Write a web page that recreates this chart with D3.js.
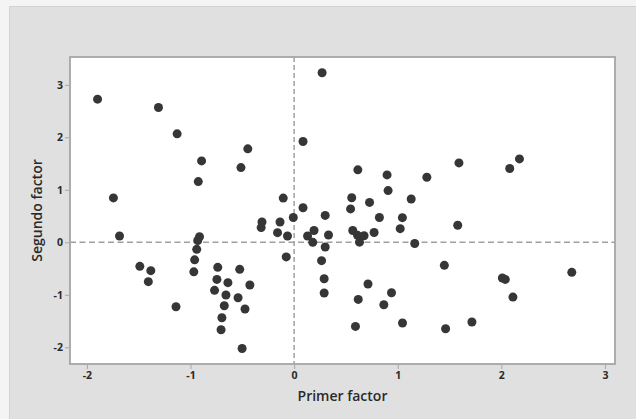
<!DOCTYPE html>
<html>
<head>
<meta charset="utf-8">
<script src="https://cdn.jsdelivr.net/npm/d3@7"></script>
<style>
  html, body { margin: 0; padding: 0; background: #f4f4f4; }
  svg { display: block; }
  text { font-family: "Open Sans", "Noto Sans", sans-serif; fill: #2a2a2a; }
</style>
</head>
<body>
<svg id="chart" width="636" height="419"></svg>
<script>
// Factor scores: first factor (x) and second factor (y)
const primerFactor = [
  -1.897, -1.309, -1.129, 0.270, 0.086, -0.447, -0.893, -0.513, -0.925, -1.744,
  -1.685, -0.105, 0.086, -0.008, -0.310, -0.318, -0.136, -0.160, -0.064, -0.076,
  0.130, 0.192, 0.180, 0.300, 0.332, 0.300, 0.265, 0.290, 0.290, -0.913,
  -0.930, -0.940, -0.960, -0.968, -1.489, -1.383, -1.407, -1.140, -0.737, -0.745,
  -0.768, -0.639, -0.658, -0.674, -0.697, -0.705, -0.525, -0.427, -0.541, -0.474,
  -0.502, 0.545, 0.556, 0.615, 0.897, 0.907, 0.728, 0.823, 0.566, 0.612,
  0.675, 0.631, 0.772, 1.130, 1.045, 1.024, 1.281, 1.164, 1.591, 1.579,
  2.081, 2.175, 1.450, 2.010, 2.038, 2.112, 2.680, 0.713, 0.940, 0.619,
  0.866, 0.592, 1.046, 1.462, 1.716
];
const segundoFactor = [
  2.727, 2.568, 2.066, 3.230, 1.920, 1.780, 1.551, 1.424, 1.157, 0.846,
  0.121, 0.842, 0.658, 0.473, 0.388, 0.280, 0.388, 0.184, 0.120, -0.278,
  0.120, 0.225, 0.000, 0.512, 0.140, -0.090, -0.350, -0.693, -0.966, 0.105,
  0.035, -0.134, -0.334, -0.563, -0.458, -0.540, -0.750, -1.227, -0.477, -0.706,
  -0.915, -0.769, -1.004, -1.208, -1.437, -1.666, -0.515, -0.814, -1.055, -1.271,
  -2.022, 0.636, 0.848, 1.380, 1.284, 0.985, 0.760, 0.473, 0.225, 0.133,
  0.124, 0.003, 0.187, 0.826, 0.470, 0.260, 1.240, -0.022, 1.513, 0.324,
  1.405, 1.589, -0.439, -0.680, -0.706, -1.043, -0.572, -0.795, -0.960, -1.087,
  -1.189, -1.602, -1.538, -1.647, -1.519
];
const xTicks = [-2, -1, 0, 1, 2, 3];
const yTicks = [-2, -1, 0, 1, 2, 3];
const xTitle = "Primer factor";
const yTitle = "Segundo factor";

const svg = d3.select("#chart");

// outer panel
svg.append("rect")
  .attr("x", 9.5).attr("y", 6.5)
  .attr("width", 628).attr("height", 414)
  .attr("fill", "#e0e0e0")
  .attr("stroke", "#d2d2d2");

const frame = { left: 70, right: 615, top: 57, bottom: 364 };

const x = d3.scaleLinear().domain([-2.163, 3.097]).range([frame.left, frame.right]);
const y = d3.scaleLinear().domain([-2.318, 3.53]).range([frame.bottom, frame.top]);

// plot area
svg.append("rect")
  .attr("x", frame.left).attr("y", frame.top)
  .attr("width", frame.right - frame.left)
  .attr("height", frame.bottom - frame.top)
  .attr("fill", "#ffffff");

// reference lines at zero
svg.append("line")
  .attr("x1", x(0)).attr("x2", x(0))
  .attr("y1", frame.top).attr("y2", frame.bottom)
  .attr("stroke", "#a0a0a0").attr("stroke-width", 1.5)
  .attr("stroke-dasharray", "5,3");
svg.append("line")
  .attr("x1", frame.left).attr("x2", frame.right)
  .attr("y1", y(0)).attr("y2", y(0))
  .attr("stroke", "#a0a0a0").attr("stroke-width", 1.5)
  .attr("stroke-dasharray", "6,3.5");

// points
const pts = primerFactor.map((v, i) => ({ px: v, py: segundoFactor[i] }));
svg.append("g")
  .selectAll("circle")
  .data(pts)
  .join("circle")
  .attr("cx", d => x(d.px))
  .attr("cy", d => y(d.py))
  .attr("r", 4.5)
  .attr("fill", "#363636");

// frame border
svg.append("rect")
  .attr("x", frame.left).attr("y", frame.top)
  .attr("width", frame.right - frame.left)
  .attr("height", frame.bottom - frame.top)
  .attr("fill", "none")
  .attr("stroke", "#a6a6a6")
  .attr("stroke-width", 1.8);

const fmt = d => String(d);

// x axis
const gx = svg.append("g")
  .attr("transform", `translate(0,${frame.bottom + 1})`)
  .call(d3.axisBottom(x).tickValues(xTicks).tickFormat(fmt).tickSize(4).tickPadding(3));
gx.select(".domain").remove();
gx.selectAll(".tick line").attr("stroke", "#a6a6a6");
gx.selectAll(".tick text")
  .attr("font-size", 10.5).attr("font-weight", 700)
  .style("font-family", "'Open Sans', sans-serif").attr("fill", "#2a2a2a");

// y axis
const gy = svg.append("g")
  .attr("transform", `translate(${frame.left - 1},0)`)
  .call(d3.axisLeft(y).tickValues(yTicks).tickFormat(fmt).tickSize(4).tickPadding(2));
gy.select(".domain").remove();
gy.selectAll(".tick line").attr("stroke", "#a6a6a6");
gy.selectAll(".tick text")
  .attr("font-size", 10.5).attr("font-weight", 700)
  .style("font-family", "'Open Sans', sans-serif").attr("fill", "#2a2a2a");

// axis titles
svg.append("text")
  .attr("x", (frame.left + frame.right) / 2)
  .attr("y", 401)
  .attr("text-anchor", "middle")
  .attr("font-size", 14)
  .attr("font-weight", 600)
  .text(xTitle);

svg.append("text")
  .attr("transform", `translate(42,${(frame.top + frame.bottom) / 2}) rotate(-90)`)
  .attr("text-anchor", "middle")
  .attr("font-size", 14)
  .attr("font-weight", 600)
  .text(yTitle);
</script>
</body>
</html>
